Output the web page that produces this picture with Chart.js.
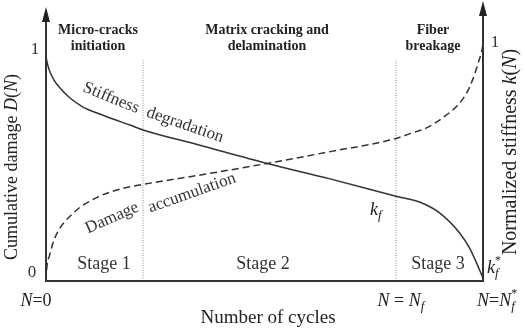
<!DOCTYPE html>
<html><head><meta charset="utf-8">
<script src="https://cdn.jsdelivr.net/npm/chart.js@4"></script>
<style>html,body{margin:0;padding:0;background:#fff;}canvas{display:block;}</style>
</head><body>
<canvas id="c" width="525" height="333"></canvas>
<script>
// Normalized number of cycles (0 = start, 1 = N_f*)
const stiffCycles = [0, 0.0046, 0.0092, 0.0183, 0.032, 0.055, 0.0847, 0.1167, 0.1533, 0.1922, 0.222, 0.35, 0.506, 0.65, 0.803, 0.856, 0.902, 0.947, 0.970, 0.986, 0.996, 1.0];
const stiffness   = [0.970, 0.931, 0.905, 0.870, 0.835, 0.792, 0.753, 0.727, 0.701, 0.675, 0.654, 0.589, 0.509, 0.442, 0.366, 0.341, 0.293, 0.207, 0.140, 0.075, 0.030, 0.012];
const damageCycles = [0, 0.002, 0.008, 0.021, 0.062, 0.117, 0.176, 0.222, 0.36, 0.506, 0.65, 0.799, 0.833, 0.872, 0.908, 0.941, 0.963, 0.977, 0.989, 0.998, 1.0];
const damage       = [0, 0.06, 0.11, 0.19, 0.293, 0.362, 0.401, 0.418, 0.461, 0.509, 0.56, 0.616, 0.638, 0.664, 0.707, 0.759, 0.815, 0.875, 0.944, 1.004, 1.03];
const stageBounds = [0.222, 0.801];
const stageNames = ['Stage 1', 'Stage 2', 'Stage 3'];
const mechanisms = [['Micro-cracks', 'initiation'], ['Matrix cracking and', 'delamination'], ['Fiber', 'breakage']];
const yTickLabels = ['0', '1'];

const SERIF = '"Liberation Serif", "Times New Roman", serif';
const TXT = '#222';

function pts(xs, ys) { return xs.map((x, i) => ({x: x, y: ys[i]})); }

// draw a sequence of text runs; parts: {t, f, dy, noAdv}
function runs(ctx, x, y, parts, align) {
  let w = 0;
  parts.forEach(p => { ctx.font = p.f; p.w = ctx.measureText(p.t).width; if (!p.noAdv) w += p.w; });
  let cx = align === 'center' ? x - w / 2 : (align === 'right' ? x - w : x);
  ctx.textAlign = 'left';
  parts.forEach(p => {
    ctx.font = p.f;
    ctx.fillText(p.t, cx, y + (p.dy || 0));
    if (!p.noAdv) cx += p.w;
  });
}

const annot = {
  id: 'annot',
  afterDraw(chart) {
    const ctx = chart.ctx, xs = chart.scales.x, ys = chart.scales.y;
    const x0 = xs.getPixelForValue(0), x1 = xs.getPixelForValue(1);
    const yb = ys.getPixelForValue(0);
    ctx.save();
    // axes
    ctx.strokeStyle = '#333'; ctx.lineWidth = 2;
    ctx.beginPath();
    ctx.moveTo(x0, 16); ctx.lineTo(x0, yb); ctx.lineTo(x1, yb); ctx.lineTo(x1, 10);
    ctx.stroke();
    ctx.fillStyle = '#222';
    [[x0, 7], [x1, 1]].forEach(a => {
      ctx.beginPath();
      ctx.moveTo(a[0], a[1]); ctx.lineTo(a[0] - 4, a[1] + 15); ctx.lineTo(a[0] + 4, a[1] + 15); ctx.closePath(); ctx.fill();
    });
    ctx.fillStyle = TXT;
    ctx.textBaseline = 'middle';
    // mechanism headers
    const hx = [98, 267, 433];
    ctx.font = `bold 14px ${SERIF}`; ctx.textAlign = 'center';
    mechanisms.forEach((m, i) => { ctx.fillText(m[0], hx[i], 30); ctx.fillText(m[1], hx[i], 46); });
    // stage labels
    const sx = [104, 263, 438];
    ctx.font = `18px ${SERIF}`; ctx.fillStyle = '#333';
    stageNames.forEach((s, i) => ctx.fillText(s, sx[i], 264));
    // tick labels
    ctx.font = `17px ${SERIF}`;
    ctx.fillText(yTickLabels[1], 35, ys.getPixelForValue(1));
    ctx.fillText(yTickLabels[0], 32, yb - 8);
    ctx.fillText(yTickLabels[1], 495, ys.getPixelForValue(1) - 7);
    // curve labels
    ctx.font = `17px ${SERIF}`; ctx.fillStyle = '#333';
    [['Stiffness', 111, 98, 22], ['degradation', 185, 125, 19], ['Damage', 112, 218, -24], ['accumulation', 192, 193, -19.5]].forEach(l => {
      ctx.save(); ctx.translate(l[1], l[2]); ctx.rotate(l[3] * Math.PI / 180); ctx.fillText(l[0], 0, 0); ctx.restore();
    });
    ctx.fillStyle = TXT;
    ctx.textBaseline = 'alphabetic';
    const I18 = `italic 18px ${SERIF}`, R18 = `18px ${SERIF}`, I13 = `italic 13px ${SERIF}`, R12 = `12px ${SERIF}`;
    // k_f
    runs(ctx, 370, 215, [{t: 'k', f: I18}, {t: 'f', f: I13, dy: 4}], 'left');
    // k_f*
    runs(ctx, 487, 273, [{t: 'k', f: I18}, {t: '*', f: R12, dy: -9, noAdv: true}, {t: 'f', f: I13, dy: 4}], 'left');
    // x labels
    runs(ctx, 36, 306, [{t: 'N', f: I18}, {t: '=0', f: R18}], 'center');
    runs(ctx, 401, 306, [{t: 'N', f: I18}, {t: ' = ', f: R18}, {t: 'N', f: I18}, {t: 'f', f: I13, dy: 4}], 'center');
    runs(ctx, 496, 306, [{t: 'N', f: I18}, {t: '=', f: R18}, {t: 'N', f: I18}, {t: '*', f: R12, dy: -9, noAdv: true}, {t: 'f', f: I13, dy: 4}], 'center');
    // axis titles
    ctx.textBaseline = 'middle';
    ctx.font = `19px ${SERIF}`; ctx.textAlign = 'center';
    ctx.fillText('Number of cycles', 268, 318);
    ctx.save(); ctx.translate(12, 167); ctx.rotate(-Math.PI / 2);
    runs(ctx, 0, 0, [{t: 'Cumulative damage ', f: `18px ${SERIF}`}, {t: 'D', f: `italic 18px ${SERIF}`}, {t: '(', f: `18px ${SERIF}`}, {t: 'N', f: `italic 18px ${SERIF}`}, {t: ')', f: `18px ${SERIF}`}], 'center');
    ctx.restore();
    ctx.save(); ctx.translate(511, 152); ctx.rotate(-Math.PI / 2);
    runs(ctx, 0, 0, [{t: 'Normalized stiffness ', f: `20px ${SERIF}`}, {t: 'k', f: `italic 20px ${SERIF}`}, {t: '(', f: `20px ${SERIF}`}, {t: 'N', f: `italic 20px ${SERIF}`}, {t: ')', f: `20px ${SERIF}`}], 'center');
    ctx.restore();
    ctx.restore();
  }
};

const datasets = [
  {data: pts(stiffCycles, stiffness), borderColor: '#333', borderWidth: 1.5, pointRadius: 0, cubicInterpolationMode: 'monotone'},
  {data: pts(damageCycles, damage), borderColor: '#333', borderWidth: 1.5, borderDash: [7, 4], pointRadius: 0, cubicInterpolationMode: 'monotone'}
];
stageBounds.forEach(b => datasets.push({data: [{x: b, y: 0}, {x: b, y: 0.955}], borderColor: '#8a8a8a', borderWidth: 1, borderDash: [1, 1.5], pointRadius: 0}));

new Chart(document.getElementById('c'), {
  type: 'line',
  data: {datasets: datasets},
  options: {
    responsive: false, animation: false, devicePixelRatio: 1,
    layout: {autoPadding: false, padding: {left: 46, right: 42, top: 8, bottom: 52}},
    plugins: {legend: {display: false}, tooltip: {enabled: false}},
    scales: {
      x: {type: 'linear', min: 0, max: 1, display: false},
      y: {type: 'linear', min: 0, max: 1.1818, display: false}
    }
  },
  plugins: [annot]
});
</script>
</body></html>
